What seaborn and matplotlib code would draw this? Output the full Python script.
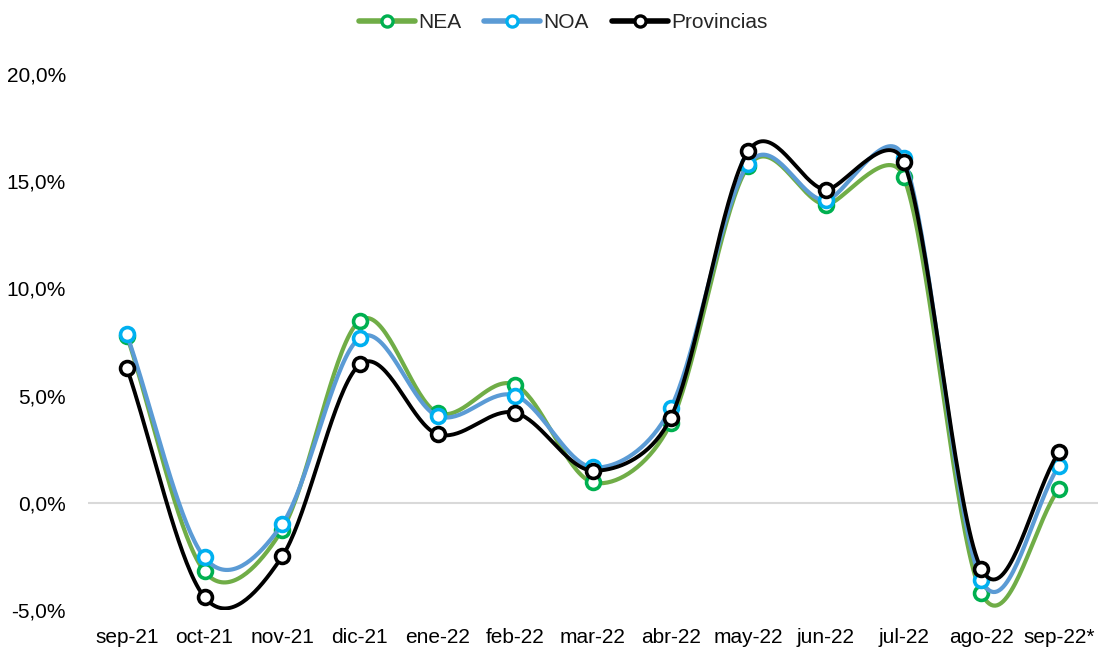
import numpy as np
import pandas as pd
import matplotlib
matplotlib.use("Agg")
import matplotlib.pyplot as plt
import seaborn as sns
from matplotlib.ticker import FuncFormatter

# data (% change)
meses = ["sep-21", "oct-21", "nov-21", "dic-21", "ene-22", "feb-22", "mar-22",
         "abr-22", "may-22", "jun-22", "jul-22", "ago-22", "sep-22*"]
nea = [7.8, -3.2, -1.25, 8.5, 4.2, 5.5, 0.95, 3.7, 15.7, 13.9, 15.2, -4.2, 0.65]
noa = [7.85, -2.55, -1.0, 7.7, 4.05, 5.0, 1.65, 4.4, 15.8, 14.1, 16.1, -3.6, 1.72]
provincias = [6.3, -4.4, -2.5, 6.45, 3.2, 4.2, 1.5, 3.95, 16.4, 14.6, 15.9, -3.07, 2.37]

series = [("NEA", nea, "#70AD47", "#00B050"),
          ("NOA", noa, "#5B9BD5", "#00B0F0"),
          ("Provincias", provincias, "#000000", "#000000")]

# pixel size of one category step and of 1 % on the chart (for the smoothing)
PX_X, PX_Y = 77.75, 21.5


def smooth(y, n=40):
    # excel-style smoothed line: bezier segments, control arms capped at half a segment
    x = np.arange(len(y), dtype=float)
    p = np.column_stack([x * PX_X, np.asarray(y, dtype=float) * PX_Y])
    p = np.vstack([p[0], p, p[-1]])
    t = np.linspace(0, 1, n)[:, None]
    out = []
    for i in range(1, len(p) - 2):
        p0, p1, p2, p3 = p[i - 1], p[i], p[i + 1], p[i + 2]
        d02 = np.hypot(*(p2 - p0))
        d12 = np.hypot(*(p2 - p1))
        d13 = np.hypot(*(p3 - p1))
        if d02 / 6 < d12 / 2 and d13 / 6 < d12 / 2:
            f = 1 / 6 if not np.allclose(p0, p1) else 1 / 3
            g = 1 / 6 if not np.allclose(p2, p3) else 1 / 3
        elif d02 / 6 >= d12 / 2 and d13 / 6 >= d12 / 2:
            f = d12 / 2 / d02
            g = d12 / 2 / d13
        elif d02 / 6 >= d12 / 2:
            f = d12 / 2 / d02
            g = d12 / 2 / d02
        else:
            f = d12 / 2 / d13
            g = d12 / 2 / d13
        b1 = p1 + (p2 - p0) * f
        b2 = p2 - (p3 - p1) * g
        seg = ((1 - t) ** 3) * p1 + 3 * ((1 - t) ** 2) * t * b1 + 3 * (1 - t) * t ** 2 * b2 + t ** 3 * p2
        out.append(seg if i == 1 else seg[1:])
    out = np.vstack(out)
    return out[:, 0] / PX_X, out[:, 1] / PX_Y


sns.set_style("white")
plt.rcParams["font.family"] = ["Liberation Sans", "DejaVu Sans"]

fig = plt.figure(figsize=(11, 6.53), dpi=100)
ax = fig.add_axes([0.08, 0.0658, 0.918, 0.821])

ax.axhline(0, color="#D9D9D9", lw=1.5, zorder=1)

handles = []
for k, (name, vals, lc, mc) in enumerate(series):
    cx, cy = smooth(vals)
    lw = 3.0 if name != "Provincias" else 2.8
    sns.lineplot(x=cx, y=cy, ax=ax, color=lc, lw=lw,
                 sort=False, estimator=None, legend=False, zorder=2 + 2 * k)
    ax.plot(range(len(vals)), vals, ls="none", marker="o", ms=10,
            mfc="white", mec=mc, mew=2.6, zorder=3 + 2 * k)
    h, = ax.plot([], [], color=lc, lw=4, marker="o", ms=8,
                 mfc="white", mec=mc, mew=2.4)
    handles.append(h)

ax.set_xlim(-0.5, 12.5)
ax.set_ylim(-5, 20)
ax.set_xticks(range(len(meses)))
ax.set_xticklabels(meses)
ax.set_yticks([-5, 0, 5, 10, 15, 20])
ax.yaxis.set_major_formatter(FuncFormatter(lambda v, p: f"{v:.1f}%".replace(".", ",")))
ax.tick_params(axis="both", length=0, labelsize=15, colors="black")
ax.tick_params(axis="x", pad=13)
ax.tick_params(axis="y", pad=16)
for s in ax.spines.values():
    s.set_visible(False)
ax.set_xlabel("")
ax.set_ylabel("")
if ax.get_legend() is not None:
    ax.get_legend().remove()

fig.legend(handles=handles, labels=[s[0] for s in series], loc="center",
           bbox_to_anchor=(0.512, 0.965), ncol=3, frameon=False, fontsize=15,
           handlelength=2.7, handletextpad=0.15, columnspacing=1.1,
           borderpad=0, borderaxespad=0)

fig.savefig("out.png", dpi=100)
